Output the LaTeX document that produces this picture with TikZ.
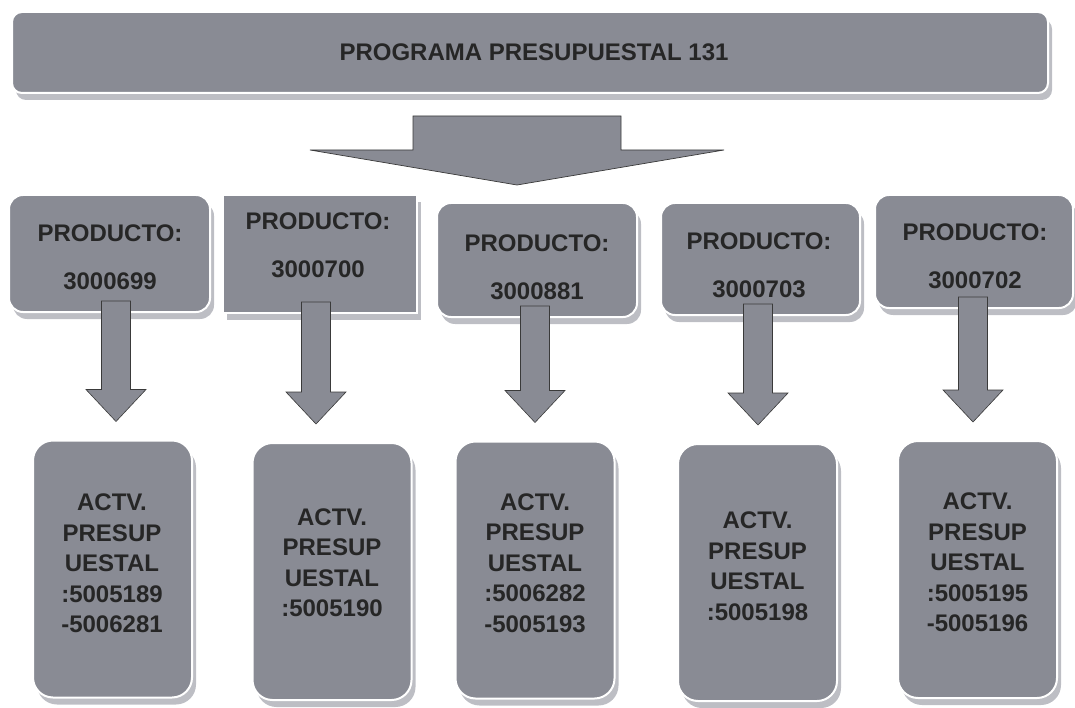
\documentclass[tikz,border=0pt]{standalone}
\usepackage{fontspec}
\setmainfont{Liberation Sans}
\usetikzlibrary{shadows}

\definecolor{boxgray}{HTML}{898B94}
\definecolor{shadowgray}{HTML}{BDBEC4}
\definecolor{inkdark}{HTML}{262626}
\definecolor{arrowline}{HTML}{3A3A3A}

\tikzset{
  boxshadow/.style={drop shadow={shadow xshift=4pt, shadow yshift=-7pt, fill=shadowgray, opacity=1}},
  banner/.style={rectangle, rounded corners=10pt, fill=boxgray, draw=white, line width=2pt,
    boxshadow, minimum width=1036pt, minimum height=81pt, inner sep=0pt},
  prodbox/.style={rectangle, rounded corners=14pt, fill=boxgray, draw=white, line width=2pt,
    boxshadow, inner sep=0pt},
  actbox/.style={rectangle, rounded corners=20pt, fill=boxgray, draw=white, line width=2pt,
    boxshadow, minimum width=159pt, minimum height=257pt, inner sep=0pt},
  progtext/.style={text=inkdark, font=\fontsize{24}{28}\selectfont\bfseries, inner sep=0pt},
  prodtext/.style={text=inkdark, font=\fontsize{24}{48}\selectfont\bfseries, align=center, inner sep=0pt},
  acttext/.style={text=inkdark, font=\fontsize{24}{30.5}\selectfont\bfseries, align=center, inner sep=0pt},
  bigarrow/.style={fill=boxgray, draw=arrowline, line width=0.7pt},
  blockarrow/.style={fill=boxgray, draw=arrowline, line width=0.6pt,
    to path={
      ([xshift=#1-14.5pt,yshift=12pt]\tikztostart) -- ([xshift=#1+14.5pt,yshift=12pt]\tikztostart)
      -- ([xshift=#1+14.5pt,yshift=50pt]\tikztostart |- \tikztotarget)
      -- ([xshift=#1+30pt,yshift=50pt]\tikztostart |- \tikztotarget)
      -- ([xshift=#1,yshift=18pt]\tikztostart |- \tikztotarget)
      -- ([xshift=#1-30pt,yshift=50pt]\tikztostart |- \tikztotarget)
      -- ([xshift=#1-14.5pt,yshift=50pt]\tikztostart |- \tikztotarget) -- cycle}},
  blockarrow/.default=0pt
}

\begin{document}
\begin{tikzpicture}[x=1pt, y=-1pt]
  \useasboundingbox (0,0) rectangle (1075,708);

  % -------- top: programa --------
  \node[banner] (prog) at (530,52.5) {};
  \node[progtext] (progt) at (534,52) {PROGRAMA PRESUPUESTAL 131};

  % -------- big arrow down --------
  \coordinate (bigtop) at (517,116);
  \coordinate (bigtip) at (517,185);
  \draw[bigarrow] ([xshift=-104pt]bigtop) -- ([xshift=104pt]bigtop)
    -- ([xshift=104pt,yshift=35pt]bigtip) -- ([xshift=207pt,yshift=35pt]bigtip)
    -- (bigtip)
    -- ([xshift=-207pt,yshift=35pt]bigtip) -- ([xshift=-104pt,yshift=35pt]bigtip) -- cycle;

  % -------- productos --------
  \node[prodbox, minimum width=201pt, minimum height=117pt] (p1) at (109.5,253.5) {};
  \node[prodbox, rounded corners=0pt, minimum width=194pt, minimum height=118pt] (p2) at (320,254) {};
  \node[prodbox, minimum width=200pt, minimum height=114pt] (p3) at (537,260) {};
  \node[prodbox, minimum width=199pt, minimum height=112pt] (p4) at (760.5,259) {};
  \node[prodbox, minimum width=198pt, minimum height=113pt] (p5) at (974,251.5) {};

  \node[prodtext] (p1t) at (110,257) {PRODUCTO:\\3000699};
  \node[prodtext] (p2t) at (318,245) {PRODUCTO:\\3000700};
  \node[prodtext] (p3t) at (537,267) {PRODUCTO:\\3000881};
  \node[prodtext] (p4t) at (759,265) {PRODUCTO:\\3000703};
  \node[prodtext] (p5t) at (975,256) {PRODUCTO:\\3000702};

  % -------- actividades --------
  \node[actbox] (a1) at (112.5,569) {};
  \node[actbox] (a2) at (332,571.5) {};
  \node[actbox] (a3) at (535,570) {};
  \node[actbox] (a4) at (757.5,572.5) {};
  \node[actbox] (a5) at (977.5,569.5) {};

  \node[acttext] (a1t) at (112,563.5) {ACTV.\\PRESUP\\UESTAL\\:5005189\\-5006281};
  \node[acttext] (a2t) at (332,562.5) {ACTV.\\PRESUP\\UESTAL\\:5005190};
  \node[acttext] (a3t) at (535,563) {ACTV.\\PRESUP\\UESTAL\\:5006282\\-5005193};
  \node[acttext] (a4t) at (757.5,566) {ACTV.\\PRESUP\\UESTAL\\:5005198};
  \node[acttext] (a5t) at (977.5,562.5) {ACTV.\\PRESUP\\UESTAL\\:5005195\\-5005196};

  % -------- arrows producto -> actividad --------
  \draw[blockarrow=6.5pt] (p1.south) to (a1.north);
  \draw[blockarrow=-4pt] (p2.south) to (a2.north);
  \draw[blockarrow=-2pt] (p3.south) to (a3.north);
  \draw[blockarrow=-2.5pt] (p4.south) to (a4.north);
  \draw[blockarrow=-1pt] (p5.south) to (a5.north);
\end{tikzpicture}
\end{document}
